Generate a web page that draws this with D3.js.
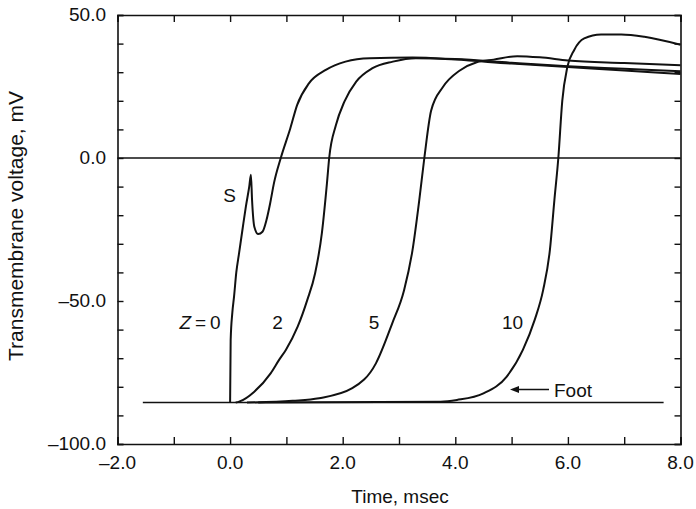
<!DOCTYPE html>
<html>
<head>
<meta charset="utf-8">
<script src="https://cdn.jsdelivr.net/npm/d3@7"></script>
<style>
  html, body { margin: 0; padding: 0; background: #fff; }
  svg { display: block; }
  text { font-family: "Liberation Sans", Arial, sans-serif; fill: #111; }
</style>
</head>
<body>
<svg id="chart" width="696" height="509"></svg>
<script>
// ---- data (time in msec, voltage in mV) ----
const xTickValues = [-2, 0, 2, 4, 6, 8];
const xTickLabels = ["\u20132.0", "0.0", "2.0", "4.0", "6.0", "8.0"];
const yTickValues = [50, 0, -50, -100];
const yTickLabels = ["50.0", "0.0", "\u201350.0", "\u2013100.0"];
const restingLevel = -85.5;
const restingStart = -1.55;
const restingEnd = 7.7;

const curveZ0 = [
  [0, -85.5], [0.01, -63.6], [0.04, -54], [0.07, -48.5], [0.11, -40], [0.16, -33.2],
  [0.22, -25], [0.28, -17], [0.34, -10], [0.37, -5.9], [0.39, -14.7], [0.43, -24],
  [0.5, -26.6], [0.575, -25.8], [0.646, -21.7], [0.71, -16], [0.78, -8.7], [0.9, 0],
  [1.07, 10.4], [1.19, 18.5], [1.4, 26.1], [1.7, 30.8], [2.05, 33.7], [2.48, 34.9],
  [3.24, 35.1], [4.0, 34.4], [5.0, 33.0], [6.0, 31.8], [7.0, 30.6], [8.0, 29.4]
];
const curveZ2 = [
  [0.1, -85.5], [0.16, -85.2], [0.43, -81.7], [0.72, -75.3], [0.87, -70.6], [0.99, -67.1],
  [1.2, -59], [1.37, -49.7], [1.51, -40.3], [1.63, -26.3], [1.72, -8.9], [1.76, 0],
  [1.88, 11.5], [2.03, 19.7], [2.24, 26.7], [2.53, 31.4], [2.89, 33.7], [3.3, 34.9],
  [4.0, 34.6], [5.0, 33.3], [6.0, 32.1], [7.0, 31.2], [8.0, 30.3]
];
const curveZ5 = [
  [0.3, -85.5], [1.11, -84.9], [1.58, -84.0], [2.17, -80.5], [2.59, -71.8], [2.88, -57.8],
  [3.09, -46.2], [3.24, -32.2], [3.36, -14.7], [3.45, 0], [3.57, 16.5], [3.78, 24.8],
  [4.08, 30.6], [4.38, 33.5], [4.68, 34.4], [5.1, 35.6], [5.5, 35.2], [6.0, 34.1],
  [7.0, 33.2], [8.0, 32.4]
];
const curveZ10 = [
  [0.5, -85.5], [3.74, -85.2], [4.03, -84.6], [4.5, -82.3], [4.91, -76.5], [5.2, -67.1],
  [5.41, -56.6], [5.56, -46.2], [5.68, -32.2], [5.76, -14.7], [5.83, 0], [5.9, 20],
  [5.99, 31.8], [6.11, 37.7], [6.29, 41.8], [6.59, 43.2], [6.95, 43.2], [7.36, 42.4],
  [8.0, 39.6]
];
const curves = [curveZ0, curveZ2, curveZ5, curveZ10];

// ---- layout ----
const svg = d3.select("#chart");
const pLeft = 117.5, pRight = 680.5, pTop = 15, pBottom = 444;
const x = d3.scaleLinear().domain([-2, 8]).range([pLeft, pRight]);
const y = d3.scaleLinear().domain([-100, 50]).range([pBottom, pTop]);
const ink = "#111";

// zero line
svg.append("line")
  .attr("x1", pLeft).attr("x2", pRight)
  .attr("y1", y(0)).attr("y2", y(0))
  .attr("stroke", ink).attr("stroke-width", 1.5);

// axes with inward ticks
const fontSize = 19;
const minorX = d3.range(-2, 8.01, 1);
const minorY = d3.range(-100, 50.01, 10);

const gB = svg.append("g").attr("transform", `translate(0,${pBottom})`)
  .call(d3.axisBottom(x).tickValues(minorX).tickSize(-7).tickFormat(""));
const gT = svg.append("g").attr("transform", `translate(0,${pTop})`)
  .call(d3.axisTop(x).tickValues(minorX).tickSize(-7).tickFormat(""));
const gL = svg.append("g").attr("transform", `translate(${pLeft},0)`)
  .call(d3.axisLeft(y).tickValues(minorY).tickSize(-6).tickFormat(""));
const gR = svg.append("g").attr("transform", `translate(${pRight},0)`)
  .call(d3.axisRight(y).tickValues(minorY).tickSize(-6).tickFormat(""));
[gB, gT, gL, gR].forEach(g => {
  g.select(".domain").attr("stroke", ink).attr("stroke-width", 1.6);
  g.selectAll(".tick line").attr("stroke", ink).attr("stroke-width", 1.4);
});

// tick labels
svg.append("g").selectAll("text").data(xTickValues).join("text")
  .attr("x", d => x(d)).attr("y", 469)
  .attr("text-anchor", "middle").attr("font-size", fontSize)
  .text((d, i) => xTickLabels[i]);
svg.append("g").selectAll("text").data(yTickValues).join("text")
  .attr("x", 106).attr("y", d => y(d) + 6)
  .attr("text-anchor", "end").attr("font-size", fontSize)
  .text((d, i) => yTickLabels[i]);

// axis titles
svg.append("text")
  .attr("x", 400).attr("y", 503)
  .attr("text-anchor", "middle").attr("font-size", fontSize)
  .text("Time, msec");
svg.append("text")
  .attr("transform", `translate(23,226) rotate(-90)`)
  .attr("text-anchor", "middle").attr("font-size", 21)
  .text("Transmembrane voltage, mV");

// resting baseline
svg.append("line")
  .attr("x1", x(restingStart)).attr("x2", x(restingEnd))
  .attr("y1", y(restingLevel)).attr("y2", y(restingLevel))
  .attr("stroke", ink).attr("stroke-width", 1.6);

// curves
const line = d3.line().x(d => x(d[0])).y(d => y(d[1])).curve(d3.curveMonotoneX);
svg.append("g").selectAll("path").data(curves).join("path")
  .attr("d", line)
  .attr("fill", "none").attr("stroke", ink).attr("stroke-width", 2)
  .attr("stroke-linejoin", "round");

// curve labels
svg.append("text").attr("x", 229.5).attr("y", 201.5)
  .attr("text-anchor", "middle").attr("font-size", fontSize).text("S");

const z0 = svg.append("text").attr("x", 220.5).attr("y", 328.5)
  .attr("text-anchor", "end").attr("font-size", fontSize);
z0.append("tspan").attr("font-style", "italic").text("Z");
z0.append("tspan").text("\u2009=\u20090");

svg.append("text").attr("x", 277.5).attr("y", 328.5)
  .attr("text-anchor", "middle").attr("font-size", fontSize).text("2");
svg.append("text").attr("x", 374).attr("y", 328.5)
  .attr("text-anchor", "middle").attr("font-size", fontSize).text("5");
svg.append("text").attr("x", 512.5).attr("y", 328.5)
  .attr("text-anchor", "middle").attr("font-size", fontSize).text("10");

// Foot arrow
const ay = 389.5;
svg.append("line").attr("x1", 515).attr("x2", 549).attr("y1", ay).attr("y2", ay)
  .attr("stroke", ink).attr("stroke-width", 1.4);
svg.append("path")
  .attr("d", `M510,${ay} L519,${ay - 3.5} L519,${ay + 3.5} Z`)
  .attr("fill", ink);
svg.append("text").attr("x", 554).attr("y", 397)
  .attr("font-size", fontSize).text("Foot");
</script>
</body>
</html>
